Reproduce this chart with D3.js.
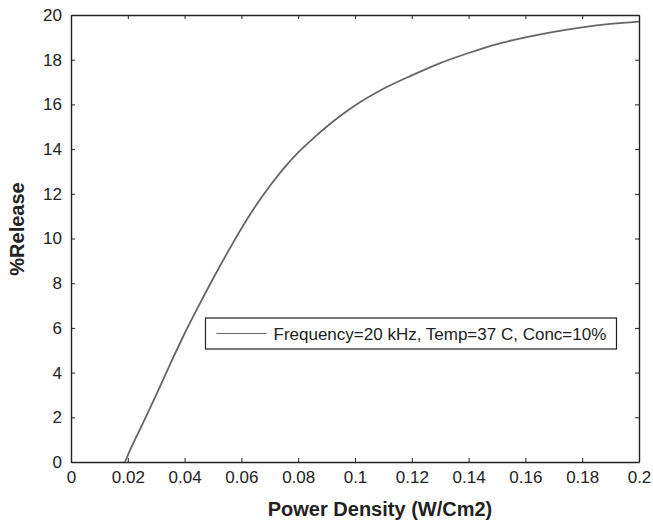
<!DOCTYPE html>
<html>
<head>
<meta charset="utf-8">
<script src="https://cdn.jsdelivr.net/npm/d3@7"></script>
<style>
  body { margin: 0; background: #fff; }
  svg { font-family: "Liberation Sans", Arial, sans-serif; }
  .axis path, .axis line { stroke: #222; }
  .axis text { fill: #222; font-size: 17px; }
</style>
</head>
<body>
<svg id="vis-svg" width="653" height="523"></svg>
<script>

// Data
var powerDensity = [0.019, 0.02, 0.025, 0.03, 0.035, 0.04, 0.045, 0.05, 0.055, 0.06, 0.065,
  0.07, 0.075, 0.08, 0.085, 0.09, 0.095, 0.1, 0.11, 0.12, 0.13, 0.14, 0.15, 0.16,
  0.17, 0.18, 0.19, 0.2];
var release = [0, 0.3, 1.65, 3.0, 4.4, 5.75, 7.0, 8.2, 9.35, 10.45, 11.45,
  12.35, 13.15, 13.85, 14.45, 15.0, 15.5, 15.95, 16.7, 17.3, 17.85, 18.3, 18.7, 19.0,
  19.25, 19.45, 19.6, 19.7];
var xTicks = [0, 0.02, 0.04, 0.06, 0.08, 0.1, 0.12, 0.14, 0.16, 0.18, 0.2];
var yTicks = [0, 2, 4, 6, 8, 10, 12, 14, 16, 18, 20];
var legendLabel = 'Frequency=20 kHz, Temp=37 C, Conc=10%';

var data = powerDensity.map(function(d, i) { return {x: d, y: release[i]}; });

var margin = {top: 15, left: 71, right: 14, bottom: 61};
var width = 653 - margin.left - margin.right;
var height = 523 - margin.top - margin.bottom;

var svg = d3.select('#vis-svg');
var g = svg.append('g')
  .attr('transform', 'translate(' + margin.left + ',' + margin.top + ')');

var xScale = d3.scaleLinear().domain([0, 0.2]).range([0, width]);
var yScale = d3.scaleLinear().domain([0, 20]).range([height, 0]);

// Axes, ticks pointing inward, mirrored on top/right
g.append('g').attr('class', 'axis')
  .attr('transform', 'translate(0,' + height + ')')
  .call(d3.axisBottom(xScale).tickValues(xTicks).tickSizeInner(-4).tickSizeOuter(0).tickPadding(9)
    .tickFormat(function(d) { return d3.format('~g')(d); }));
g.append('g').attr('class', 'axis')
  .call(d3.axisTop(xScale).tickValues(xTicks).tickSizeInner(-4).tickSizeOuter(0).tickFormat(''));
g.append('g').attr('class', 'axis')
  .call(d3.axisLeft(yScale).tickValues(yTicks).tickSizeInner(-4).tickSizeOuter(0).tickPadding(9));
g.append('g').attr('class', 'axis')
  .attr('transform', 'translate(' + width + ',0)')
  .call(d3.axisRight(yScale).tickValues(yTicks).tickSizeInner(-4).tickSizeOuter(0).tickFormat(''));
g.selectAll('.axis path').attr('stroke-width', 1.4);

// Line
var line = d3.line()
  .x(function(d) { return xScale(d.x); })
  .y(function(d) { return yScale(d.y); })
  .curve(d3.curveMonotoneX);
g.append('path')
  .datum(data)
  .attr('d', line)
  .attr('fill', 'none')
  .attr('stroke', '#666')
  .attr('stroke-width', 1.8);

// Axis labels
g.append('text')
  .attr('x', 380 - margin.left)
  .attr('y', height + 54)
  .attr('text-anchor', 'middle')
  .attr('font-weight', 'bold')
  .attr('font-size', 20)
  .attr('fill', '#222')
  .text('Power Density (W/Cm2)');
g.append('text')
  .attr('transform', 'translate(' + (-47) + ',' + (229 - margin.top) + ') rotate(-90)')
  .attr('text-anchor', 'middle')
  .attr('font-weight', 'bold')
  .attr('font-size', 20)
  .attr('fill', '#222')
  .text('%Release');

// Legend
var legend = g.append('g').attr('transform', 'translate(' + (205.5 - margin.left) + ',' + (318 - margin.top) + ')');
legend.append('rect')
  .attr('width', 411).attr('height', 31)
  .attr('fill', '#fff').attr('stroke', '#222').attr('stroke-width', 1.2);
legend.append('line')
  .attr('x1', 11).attr('x2', 61).attr('y1', 15.5).attr('y2', 15.5)
  .attr('stroke', '#666').attr('stroke-width', 1.2);
legend.append('text')
  .attr('x', 68).attr('y', 21.5)
  .attr('font-size', 17).attr('fill', '#222')
  .text(legendLabel);

</script>
</body>
</html>
